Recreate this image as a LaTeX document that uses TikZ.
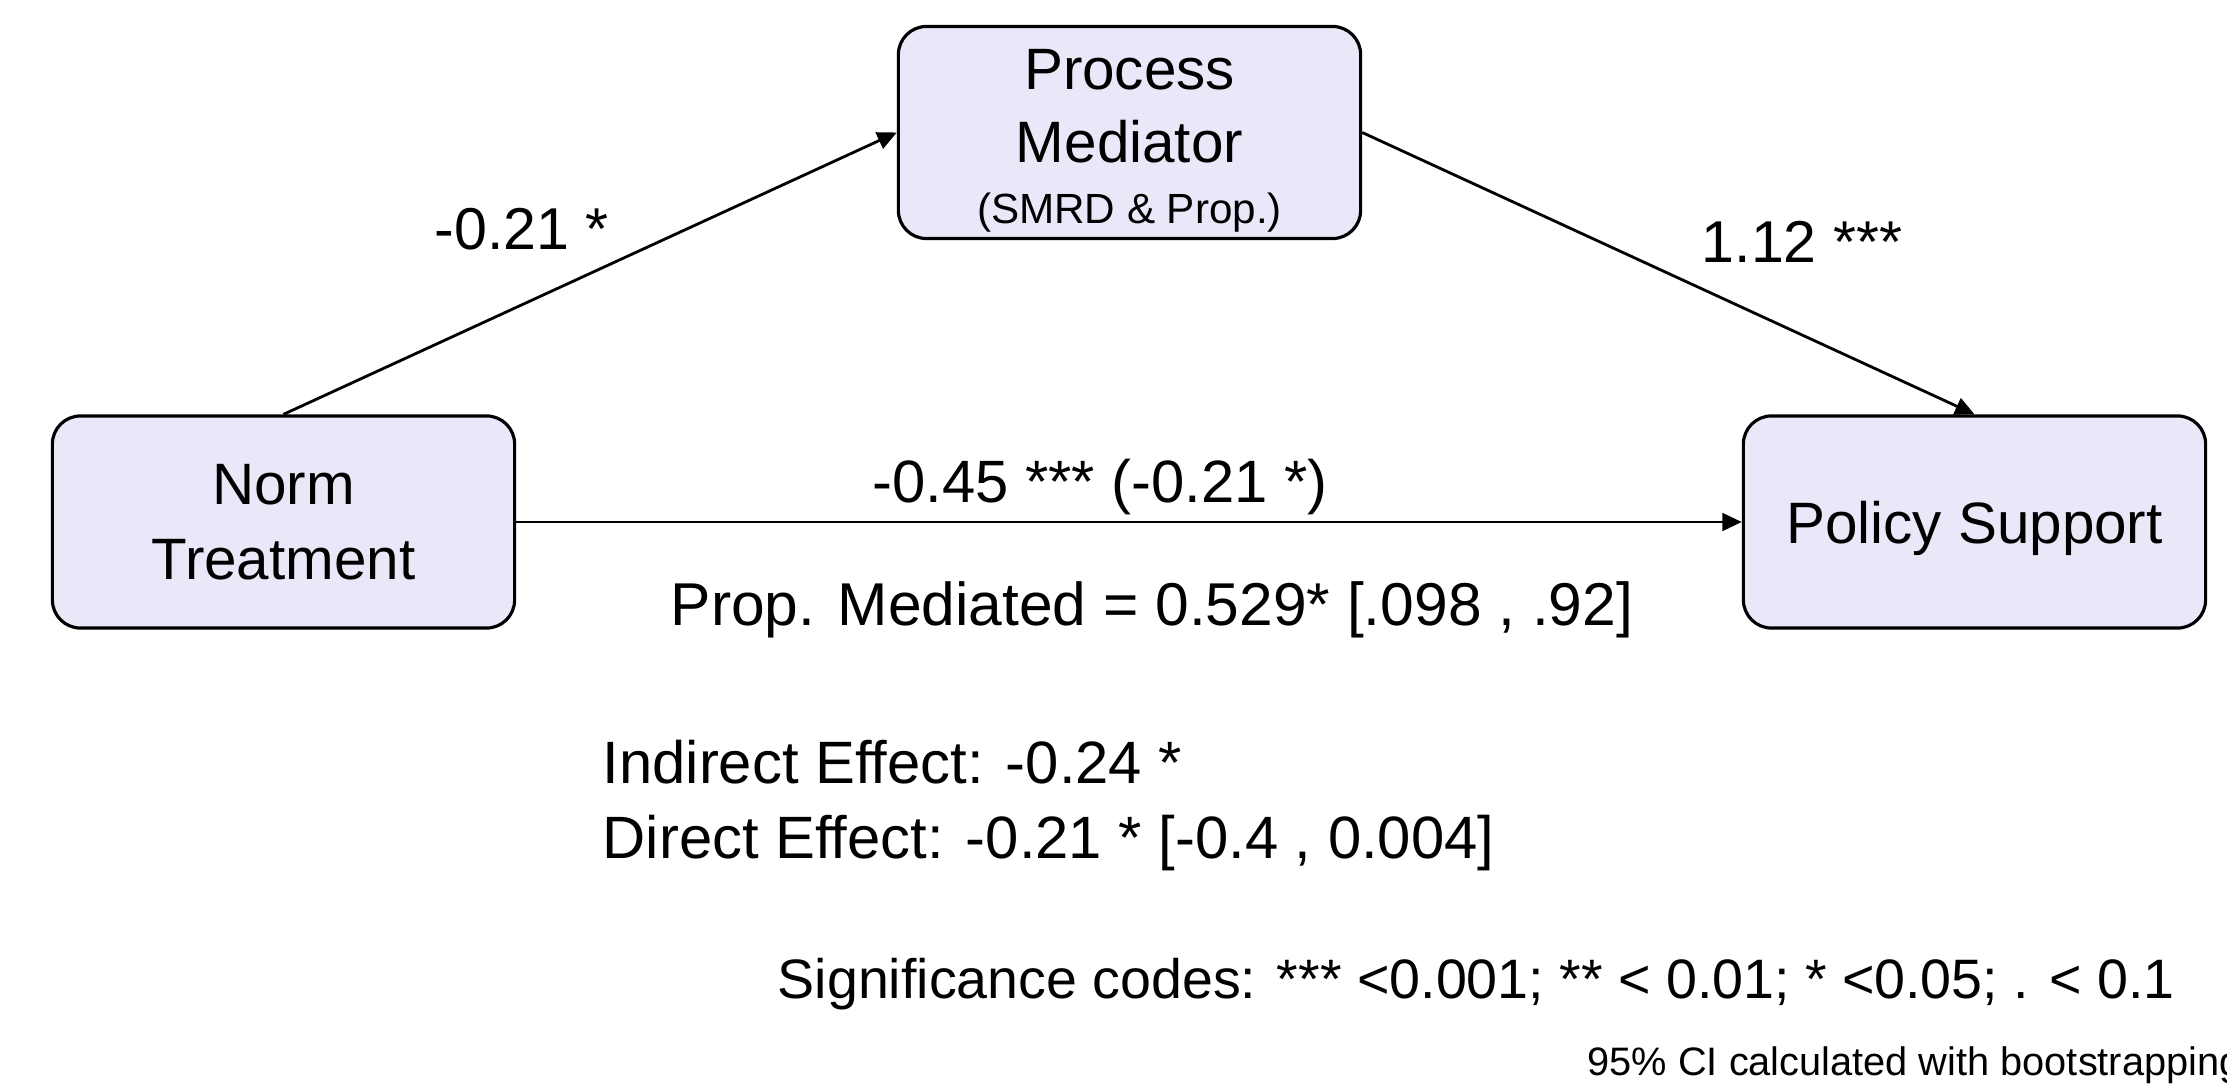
\documentclass[tikz,border=0pt]{standalone}
\usepackage{fontspec}
\setmainfont{Liberation Sans}
\usetikzlibrary{arrows.meta}
\definecolor{boxfill}{RGB}{233,231,248}
\tikzset{
  varbox/.style={draw=black, line width=0.9pt, fill=boxfill, rounded corners=8pt,
    minimum width=4.62cm, minimum height=2.12cm, align=center, inner sep=0pt,
    font=\fontsize{16.6pt}{21.3pt}\selectfont},
  conn/.style={line width=0.8pt, -{Triangle[length=5.5pt,width=5pt]}},
  elabel/.style={anchor=base, inner sep=0pt, font=\fontsize{16.8pt}{20pt}\selectfont},
  note/.style={anchor=base west, inner sep=0pt, font=\fontsize{17pt}{20pt}\selectfont}
}
\begin{document}
\begin{tikzpicture}[x=0.01cm, y=-0.01cm]
\useasboundingbox (0,0) rectangle (2227,1085);
\node[varbox] (med) at (1129.5,132.5) {\rule{0pt}{16pt}Process\\[-0.5pt]Mediator\\[-4pt]{\fontsize{12pt}{14pt}\selectfont (SMRD \& Prop.)}};
\node[varbox] (norm) at (283.5,522) {Norm\\Treatment};
\node[varbox, text depth=0pt] (pol) at (1974.5,522) {Policy Support};
\draw[conn] (norm.north) -- (med.west);
\draw[conn] (med.east) -- (pol.north);
\draw[conn] (norm.east) -- (pol.west);
\node[elabel] (la) at (522,250) {-0.21 *};
\node[elabel] (lb) at (1802,263) {1.12 ***};
\node[elabel, font=\fontsize{17pt}{20pt}\selectfont] (lc) at (1100,502) {-0.45 *** (-0.21 *)};
\node[elabel, font=\fontsize{17.2pt}{20pt}\selectfont] (prop) at (1152,625) {Prop. Mediated = 0.529* [.098 , .92]};
\node[note] (ind) at (602,783) {Indirect Effect: -0.24 *};
\node[note] (dir) at (602,858) {Direct Effect: -0.21 * [-0.4 , 0.004]};
\node[note, font=\fontsize{15.8pt}{18pt}\selectfont] (sig) at (777,998) {Significance codes: *** <0.001; ** < 0.01; * <0.05; . < 0.1};
\node[note, font=\fontsize{11.3pt}{13pt}\selectfont] (ci) at (1587,1075) {95\% CI calculated with bootstrapping};
\end{tikzpicture}
\end{document}
